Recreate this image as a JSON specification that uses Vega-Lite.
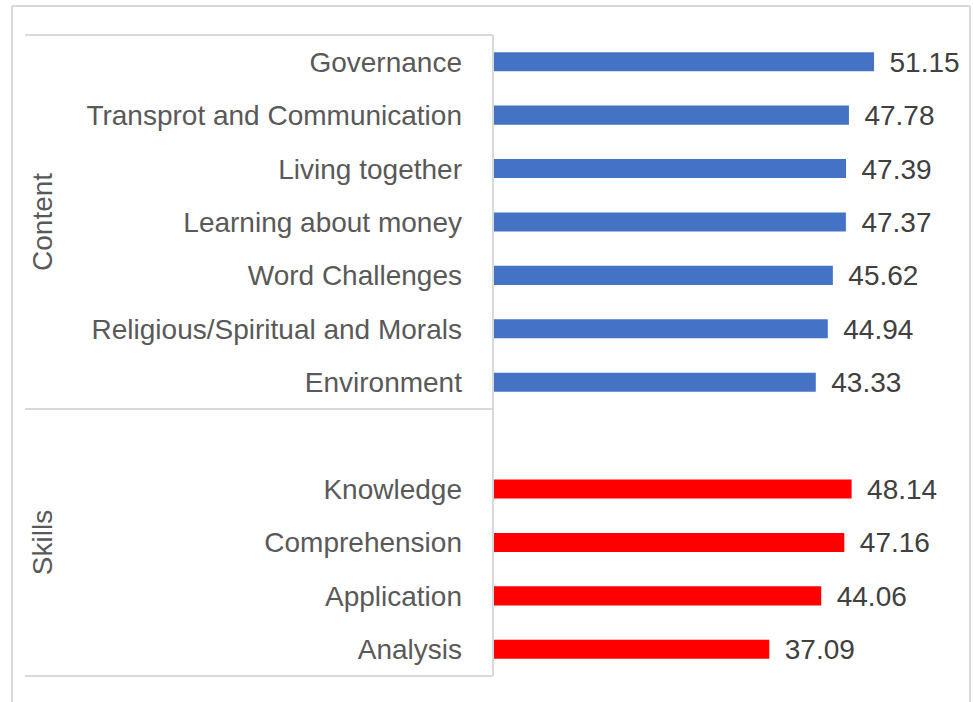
{
  "$schema": "https://vega.github.io/schema/vega-lite/v6.json",
  "width": 958,
  "height": 696,
  "padding": {"left": 12, "top": 6, "right": 3, "bottom": 0},
  "autosize": {"type": "none"},
  "background": "white",
  "config": {
    "view": {"stroke": null},
    "text": {"font": "Liberation Sans", "fontSize": 28}
  },
  "data": {
    "values": [
      {"category": "Governance", "group": "Content", "value": 51.15},
      {"category": "Transprot and Communication", "group": "Content", "value": 47.78},
      {"category": "Living together", "group": "Content", "value": 47.39},
      {"category": "Learning about money", "group": "Content", "value": 47.37},
      {"category": "Word Challenges", "group": "Content", "value": 45.62},
      {"category": "Religious/Spiritual and Morals", "group": "Content", "value": 44.94},
      {"category": "Environment", "group": "Content", "value": 43.33},
      {"category": "Knowledge", "group": "Skills", "value": 48.14},
      {"category": "Comprehension", "group": "Skills", "value": 47.16},
      {"category": "Application", "group": "Skills", "value": 44.06},
      {"category": "Analysis", "group": "Skills", "value": 37.09}
    ]
  },
  "layer": [
    {
      "mark": {"type": "bar", "height": {"band": 0.356}},
      "encoding": {
        "y": {
          "field": "category",
          "type": "nominal",
          "sort": null,
          "axis": null,
          "scale": {
            "domain": ["Governance", "Transprot and Communication", "Living together", "Learning about money", "Word Challenges", "Religious/Spiritual and Morals", "Environment", " ", "Knowledge", "Comprehension", "Application", "Analysis"],
            "range": [29, 670],
            "paddingInner": 0,
            "paddingOuter": 0
          }
        },
        "x": {
          "field": "value",
          "type": "quantitative",
          "axis": null,
          "scale": {"domain": [-64.56, 64.03], "nice": false, "zero": false}
        },
        "color": {
          "field": "group",
          "type": "nominal",
          "legend": null,
          "scale": {"domain": ["Content", "Skills"], "range": ["#4472C4", "#FF0000"]}
        }
      }
    },
    {
      "mark": {"type": "text", "align": "left", "baseline": "middle", "dx": 15.5, "dy": 2, "color": "#404040"},
      "encoding": {
        "y": {"field": "category", "type": "nominal", "sort": null},
        "x": {"field": "value", "type": "quantitative"},
        "text": {"field": "value", "type": "quantitative", "format": ".2f"}
      }
    },
    {
      "mark": {"type": "text", "align": "right", "baseline": "middle", "dx": -31, "dy": 2, "color": "#595959"},
      "encoding": {
        "y": {"field": "category", "type": "nominal", "sort": null},
        "x": {"datum": 0},
        "text": {"field": "category"}
      }
    },
    {
      "data": {"values": [{"g": "Content", "at": "Learning about money"}, {"g": "Skills", "at": "Comprehension"}]},
      "mark": {"type": "text", "align": "center", "baseline": "middle", "angle": 270, "dy": 2, "color": "#595959"},
      "encoding": {
        "x": {"datum": -60.47},
        "y": {"field": "at", "type": "nominal"},
        "text": {"field": "g"}
      }
    },
    {
      "mark": {"type": "rule", "color": "#D9D9D9", "strokeWidth": 1.3},
      "encoding": {
        "x": {"datum": -62.8},
        "x2": {"datum": 0},
        "y": {"datum": "Governance", "bandPosition": 0}
      }
    },
    {
      "mark": {"type": "rule", "color": "#D9D9D9", "strokeWidth": 1.3},
      "encoding": {
        "x": {"datum": -62.8},
        "x2": {"datum": 0},
        "y": {"datum": "Environment", "bandPosition": 1}
      }
    },
    {
      "mark": {"type": "rule", "color": "#D9D9D9", "strokeWidth": 1.3},
      "encoding": {
        "x": {"datum": -62.8},
        "x2": {"datum": 0},
        "y": {"datum": "Analysis", "bandPosition": 1}
      }
    },
    {
      "mark": {"type": "rule", "color": "#D9D9D9", "strokeWidth": 1.3},
      "encoding": {
        "x": {"datum": 0},
        "y": {"datum": "Governance", "bandPosition": 0},
        "y2": {"datum": "Analysis", "bandPosition": 1}
      }
    },
    {
      "mark": {"type": "rule", "color": "#D9D9D9", "strokeWidth": 1.3},
      "encoding": {
        "x": {"datum": -64.56},
        "x2": {"datum": 64.03},
        "y": {"datum": "Governance", "bandPosition": -0.5429}
      }
    },
    {
      "mark": {"type": "rule", "color": "#D9D9D9", "strokeWidth": 1.3},
      "encoding": {
        "x": {"datum": -64.56}
      }
    },
    {
      "mark": {"type": "rule", "color": "#D9D9D9", "strokeWidth": 1.3},
      "encoding": {
        "x": {"datum": 64.03}
      }
    }
  ]
}
